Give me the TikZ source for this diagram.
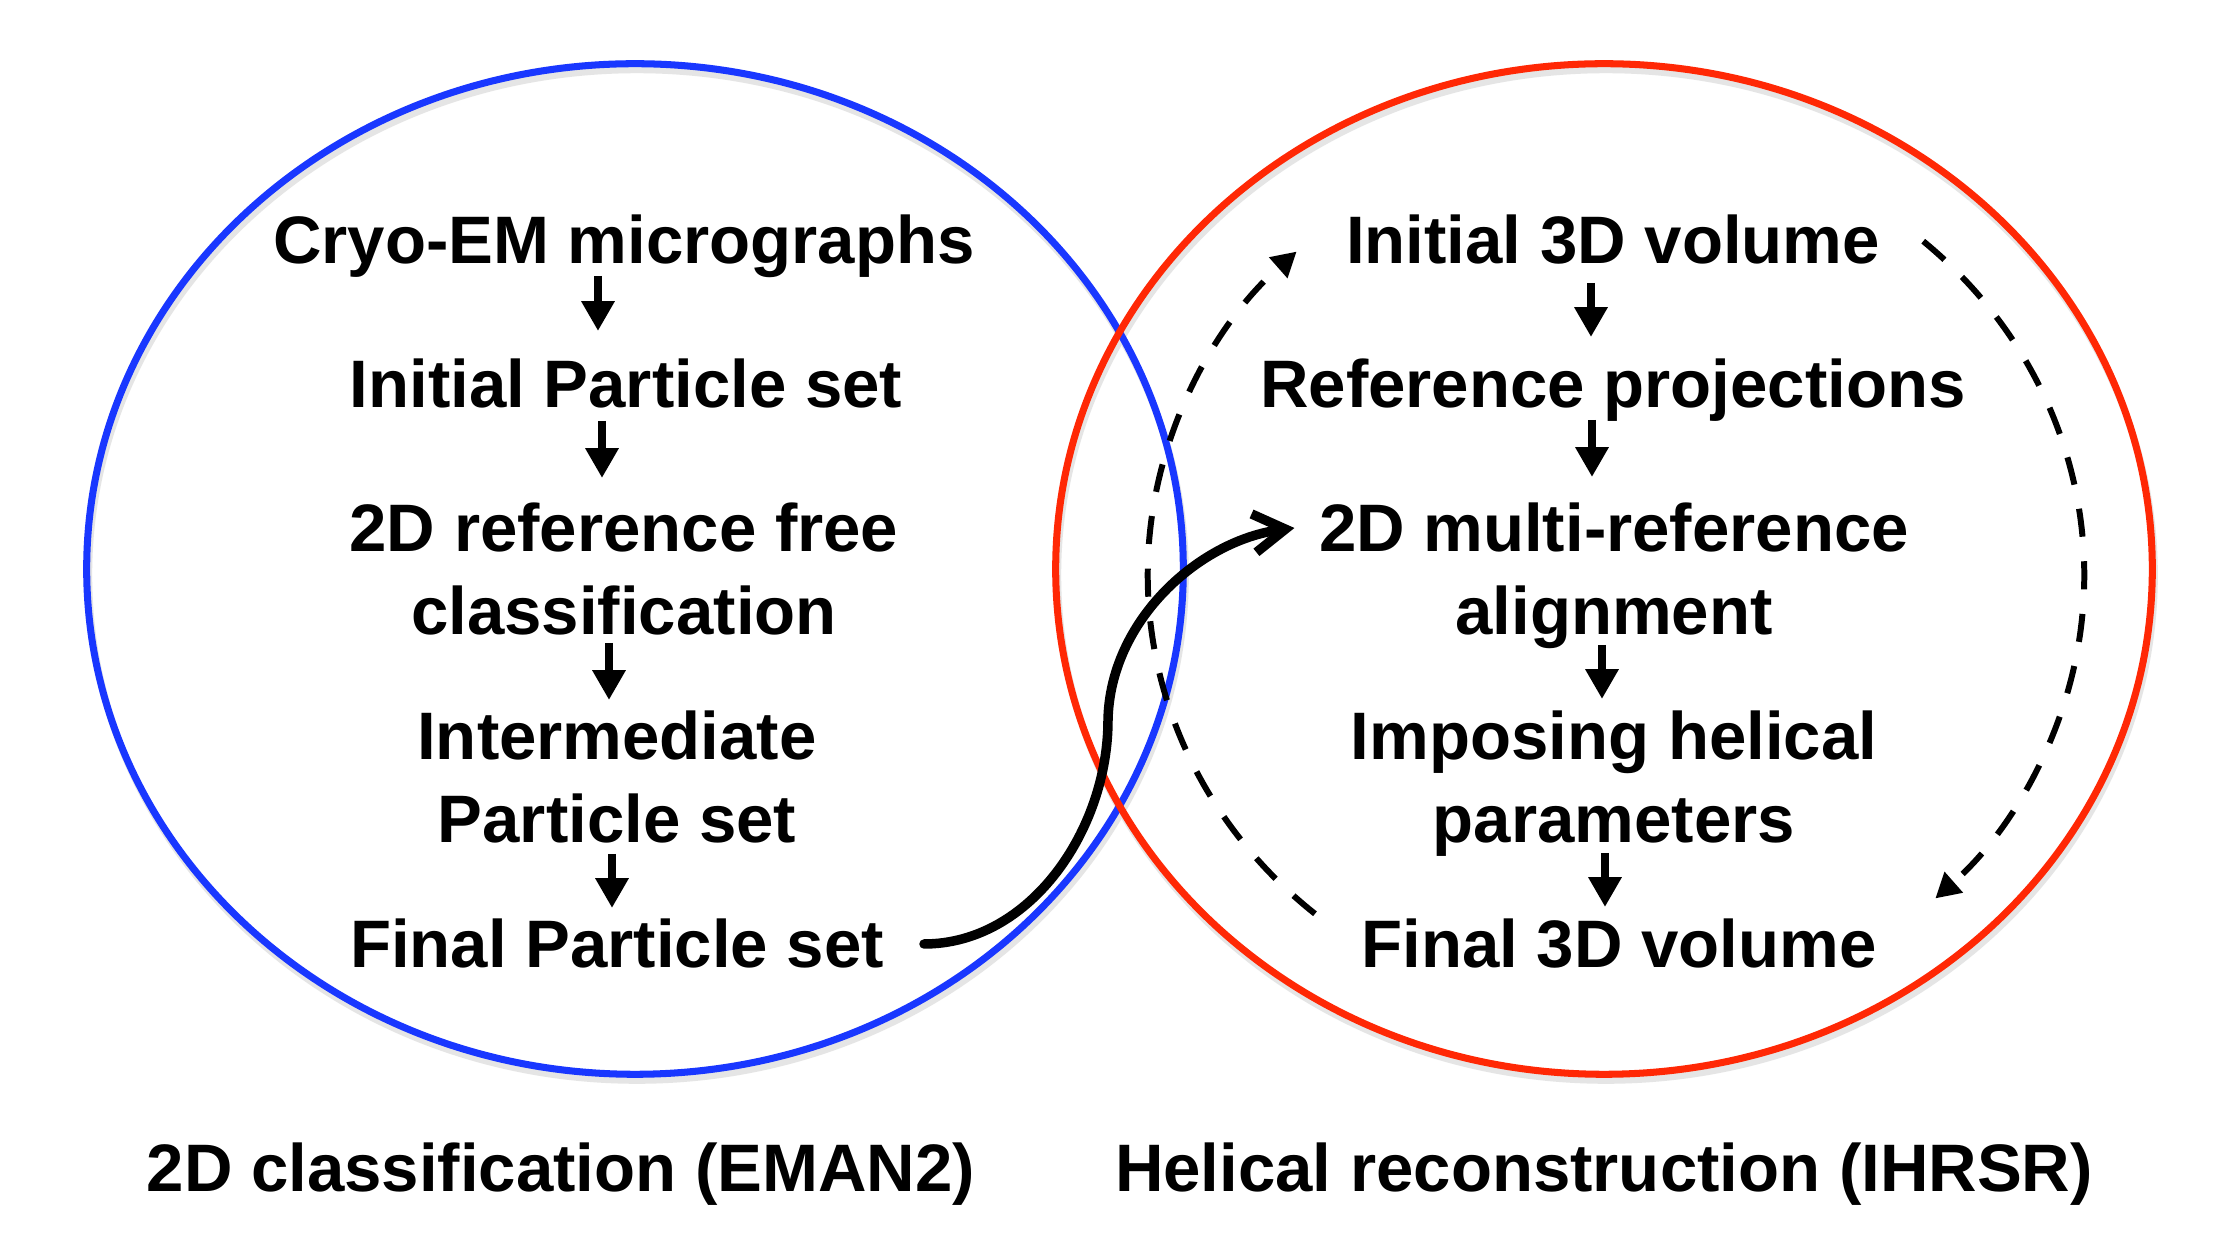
\documentclass[tikz,border=0pt]{standalone}
\usepackage{fontspec}
\setmainfont{Liberation Sans}
\usetikzlibrary{arrows.meta,calc}
\definecolor{cblue}{RGB}{25,55,255}
\definecolor{cred}{RGB}{255,40,5}
\tikzset{
  lbl/.style={font=\fontsize{19.1pt}{23.6pt}\selectfont\bfseries, inner sep=0pt, anchor=base},
  flow/.style={line width=2.5pt, -{Triangle[width=9pt,length=8.5pt]}},
  loop/.style={line width=1.7pt, dash pattern=on 8pt off 7pt, -{Triangle[width=7.5pt,length=7pt]}},
  bigarrow/.style={line width=2.7pt, line cap=round, -{Straight Barb[length=9pt,width=11pt]}},
  ring/.style={line width=2pt},
  shade/.style={line width=2pt, black!10}
}
\newcommand{\ml}[1]{\begin{tabular}[t]{@{}c@{}}#1\end{tabular}}
\begin{document}
\begin{tikzpicture}[x=0.01cm,y=0.01cm]
\useasboundingbox (0,0) rectangle (2217,1251);
\fill[white] (0,0) rectangle (2217,1251);
% circles
\coordinate (bc) at (635,682);
\coordinate (rc) at (1604,682);
\coordinate (dc) at (1616,676);
\draw[shade] ([shift={(2,-6)}]bc) ellipse [x radius=5.48cm, y radius=5.05cm];
\draw[shade] ([shift={(2,-6)}]rc) ellipse [x radius=5.48cm, y radius=5.05cm];
\draw[ring, cblue] (bc) ellipse [x radius=5.48cm, y radius=5.05cm];
\draw[ring, cred] (rc) ellipse [x radius=5.48cm, y radius=5.05cm];
% left column
\node[lbl] (n1) at (624,987) {\ml{Cryo-EM micrographs}};
\node[lbl] (n2) at (626,843) {\ml{Initial Particle set}};
\node[lbl] (n3) at (624,699) {\ml{2D reference free\\classification}};
\node[lbl] (n4) at (617,491) {\ml{Intermediate\\Particle set}};
\node[lbl] (n5) at (617,283) {\ml{Final Particle set}};
% right column
\node[lbl] (m1) at (1613,987) {\ml{Initial 3D volume}};
\node[lbl] (m2) at (1613,843) {\ml{Reference projections}};
\node[lbl] (m3) at (1614,699) {\ml{2D multi-reference\\alignment}};
\node[lbl] (m4) at (1614,491) {\ml{Imposing helical\\parameters}};
\node[lbl] (m5) at (1619,283) {\ml{Final 3D volume}};
% bottom labels
\node[lbl] (l1) at (561,59) {\ml{2D classification (EMAN2)}};
\node[lbl] (l2) at (1604,59) {\ml{Helical reconstruction (IHRSR)}};
% left arrows
\draw[flow] ([shift={(-26,-12)}]n1.base) -- ([shift={(-28,77)}]n2.base);
\draw[flow] ([shift={(-24,-13)}]n2.base) -- ([shift={(-22,74)}]n3.base);
\draw[flow] ([shift={(-15,-91)}]n3.base) -- ([shift={(-8,60)}]n4.base);
\draw[flow] ([shift={(-5,-94)}]n4.base) -- ([shift={(-5,60)}]n5.base);
% right arrows
\draw[flow] ([shift={(-22,-19)}]m1.base) -- ([shift={(-22,71)}]m2.base);
\draw[flow] ([shift={(-21,-12)}]m2.base) -- ([shift={(-22,75)}]m3.base);
\draw[flow] ([shift={(-12,-93)}]m3.base) -- ([shift={(-12,61)}]m4.base);
\draw[flow] ([shift={(-9,-93)}]m4.base) -- ([shift={(-14,61)}]m5.base);
% dashed loop
\draw[loop] ($(dc)+(230:4.68cm and 4.42cm)$) arc[start angle=230, end angle=133, x radius=4.68cm, y radius=4.42cm];
\draw[loop] ($(dc)+(49:4.68cm and 4.42cm)$) arc[start angle=49, end angle=-47, x radius=4.68cm, y radius=4.42cm];
% curved arrow
\draw[bigarrow] ([shift={(307,24)}]n5.base) .. controls (1030,307) and (1108,421) .. (1108,531)
  .. controls (1110,631) and (1200,711) .. ([shift={(-24,24)}]m3.base west);
\end{tikzpicture}
\end{document}
